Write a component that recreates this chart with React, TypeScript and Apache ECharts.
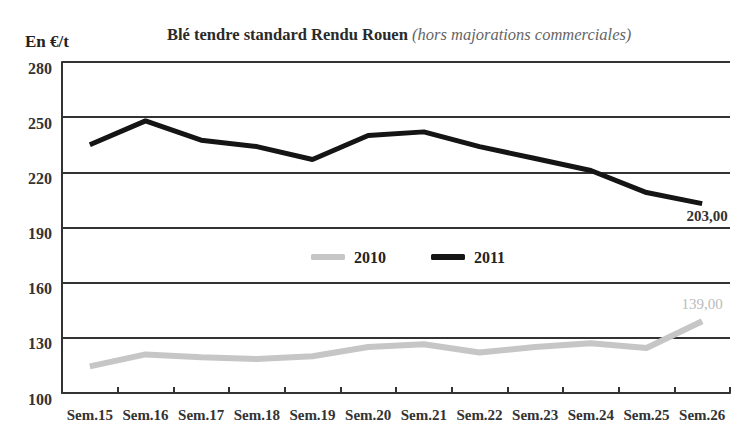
import React, { useEffect, useRef } from "react";
import * as echarts from "echarts";

const categories = ["Sem.15", "Sem.16", "Sem.17", "Sem.18", "Sem.19", "Sem.20", "Sem.21", "Sem.22", "Sem.23", "Sem.24", "Sem.25", "Sem.26"];
const values2010 = [114.5, 121, 119.5, 118.5, 120, 125, 126.5, 122, 125, 127, 124.5, 139];
const values2011 = [235, 248, 237.5, 234, 227, 240, 242, 234, 227.5, 221, 209, 203];
const serif = "'Liberation Serif', 'DejaVu Serif', serif";

const withEndLabel = (arr: number[], color: string, position: string, offset: number[], weight: string) =>
  arr.map((v, i) =>
    i === arr.length - 1
      ? {
          value: v,
          label: {
            show: true,
            position,
            offset,
            formatter: (p: any) => Number(p.value).toFixed(2).replace(".", ","),
            color,
            fontFamily: serif,
            fontWeight: weight,
            fontSize: 15,
          },
        }
      : v
  );

export default function App() {
  const ref = useRef<HTMLDivElement>(null);
  useEffect(() => {
    const chart = echarts.init(ref.current!, null, { renderer: "svg" });
    chart.setOption({
      animation: false,
      backgroundColor: "#ffffff",
      textStyle: { fontFamily: serif },
      graphic: [
        {
          type: "text",
          left: 167,
          top: 26,
          style: {
            text: "Blé tendre standard Rendu Rouen",
            font: "bold 16.5px " + serif,
            fill: "#2a2a2a",
          },
        },
        {
          type: "text",
          left: 412,
          top: 26,
          style: {
            text: "(hors majorations commerciales)",
            font: "italic 16.5px " + serif,
            fill: "#666",
          },
        },
        {
          type: "text",
          left: 25,
          top: 33,
          style: { text: "En €/t", font: "bold 17px " + serif, fill: "#222" },
        },
      ],
      legend: {
        left: 306,
        top: 244,
        itemGap: 45,
        itemWidth: 34,
        itemHeight: 6,
        icon: "roundRect",
        textStyle: { fontFamily: serif, fontWeight: "bold", fontSize: 16, color: "#222", padding: [0, 0, 0, 4] },
        data: ["2010", "2011"],
      },
      grid: { left: 62, right: 17, top: 62, bottom: 41 },
      xAxis: {
        type: "category",
        data: categories,
        boundaryGap: true,
        axisLine: { lineStyle: { color: "#333", width: 2 } },
        axisTick: { show: true, inside: true, interval: 0, length: 6, lineStyle: { color: "#333", width: 2 } },
        axisLabel: {
          interval: 0,
          hideOverlap: false,
          fontFamily: serif,
          fontWeight: "bold",
          fontSize: 15,
          color: "#333",
          margin: 14,
        },
      },
      yAxis: {
        type: "value",
        min: 100,
        max: 280,
        interval: 30,
        axisLine: { show: true, lineStyle: { color: "#333", width: 2 } },
        axisTick: { show: false },
        splitLine: { lineStyle: { color: "#333", width: 2 } },
        axisLabel: {
          fontFamily: serif,
          fontWeight: "bold",
          fontSize: 16,
          color: "#333",
          margin: 10,
          verticalAlign: "top",
          lineHeight: 12,
        },
      },
      series: [
        {
          name: "2010",
          type: "line",
          data: withEndLabel(values2010, "#bbbbbb", "top", [0, -5], "normal"),
          symbol: "circle",
          symbolSize: 0,
          showSymbol: true,
          lineStyle: { color: "#c6c6c6", width: 6 },
          itemStyle: { color: "#c6c6c6" },
        },
        {
          name: "2011",
          type: "line",
          data: withEndLabel(values2011, "#333", "bottom", [5, 0], "bold"),
          symbol: "circle",
          symbolSize: 0,
          showSymbol: true,
          lineStyle: { color: "#151515", width: 5 },
          itemStyle: { color: "#151515" },
        },
      ],
    });
    return () => chart.dispose();
  }, []);
  return <div ref={ref} style={{ width: 747, height: 434, position: "absolute", left: 0, top: 0 }} />;
}
